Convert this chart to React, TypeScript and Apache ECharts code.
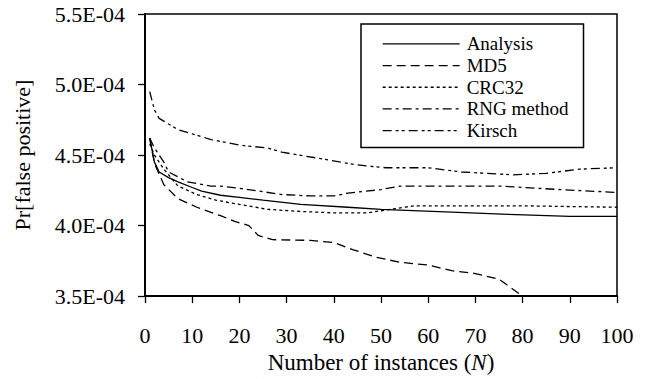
import React, { useEffect, useRef } from "react";
import * as echarts from "echarts";

// values in units of 1E-04
const seriesNames = ["Analysis", "MD5", "CRC32", "RNG method", "Kirsch"];

const analysisN = [1, 2, 3, 5, 7, 10, 12, 16, 20, 25, 33, 43, 50, 65, 77, 90, 100];
const analysisV = [4.62, 4.45, 4.38, 4.34, 4.31, 4.27, 4.245, 4.215, 4.2, 4.18, 4.15, 4.13, 4.115, 4.095, 4.08, 4.065, 4.065];

const md5N = [1, 2, 4, 7, 11, 16, 19, 22, 24, 27, 35, 40, 44, 49, 54, 60, 65, 70, 75, 80];
const md5V = [4.62, 4.44, 4.29, 4.19, 4.13, 4.07, 4.03, 4.0, 3.93, 3.9, 3.895, 3.88, 3.83, 3.775, 3.74, 3.72, 3.68, 3.66, 3.62, 3.5];

const crcN = [1, 2, 4, 7, 11, 15, 20, 26, 33, 40, 47, 51, 57, 70, 80, 90, 100];
const crcV = [4.58, 4.5, 4.4, 4.28, 4.22, 4.18, 4.15, 4.115, 4.1, 4.09, 4.09, 4.11, 4.14, 4.14, 4.14, 4.135, 4.13];

const rngN = [1, 2, 4, 5, 9, 14, 16, 21, 29, 35, 40, 43, 50, 54, 60, 75, 88, 100];
const rngV = [4.62, 4.55, 4.45, 4.38, 4.31, 4.28, 4.28, 4.26, 4.22, 4.21, 4.21, 4.23, 4.255, 4.28, 4.28, 4.28, 4.255, 4.235];

const kirschN = [1, 2, 3, 5, 7, 10, 14, 20, 26, 29, 38, 45, 51, 60, 67, 78, 85, 92, 100];
const kirschV = [4.95, 4.82, 4.76, 4.72, 4.68, 4.65, 4.61, 4.57, 4.55, 4.52, 4.47, 4.43, 4.41, 4.41, 4.38, 4.36, 4.37, 4.4, 4.41];

const yTickValues = [3.5, 4.0, 4.5, 5.0, 5.5];
const yTickLabels = ["3.5E-04", "4.0E-04", "4.5E-04", "5.0E-04", "5.5E-04"];

const FONT = "Liberation Serif";

const dashStyles: any[] = ["solid", [9, 5], [3, 3], [9, 4, 3, 4], [9, 4, 3, 3, 3, 4]];

function pairs(xs: number[], ys: number[]) {
  return xs.map((x, i) => [x, ys[i]]);
}

export default function App() {
  const ref = useRef<HTMLDivElement>(null);
  useEffect(() => {
    if (!ref.current) return;
    const chart = echarts.init(ref.current, undefined, { renderer: "svg" });
    const allData = [
      pairs(analysisN, analysisV),
      pairs(md5N, md5V),
      pairs(crcN, crcV),
      pairs(rngN, rngV),
      pairs(kirschN, kirschV),
    ];
    chart.setOption({
      animation: false,
      backgroundColor: "#fff",
      grid: {
        left: 145,
        right: 30,
        top: 14,
        bottom: 82,
        show: true,
        borderColor: "#000",
        borderWidth: 1.5,
        backgroundColor: "transparent",
      },
      legend: {
        orient: "vertical",
        left: 361,
        top: 24,
        padding: [9, 15, 6, 21],
        itemGap: 0,
        itemWidth: 77,
        itemHeight: 14,
        borderColor: "#000",
        borderWidth: 1.5,
        backgroundColor: "#fff",
        data: seriesNames,
        itemStyle: { color: "rgba(0,0,0,0)", borderColor: "rgba(0,0,0,0)", borderWidth: 0, opacity: 0 },
        lineStyle: { color: "#000", width: 1.3 },
        textStyle: {
          fontFamily: FONT,
          fontSize: 19,
          color: "#000",
          lineHeight: 21.7,
          padding: [0, 0, 0, 2],
        },
      },
      xAxis: {
        type: "value",
        min: 0,
        max: 100,
        interval: 10,
        name: "Number of instances ({i|N})",
        nameLocation: "middle",
        nameGap: 52,
        nameTextStyle: {
          fontFamily: FONT,
          fontSize: 23,
          color: "#000",
          rich: { i: { fontFamily: FONT, fontSize: 23, fontStyle: "italic", color: "#000" } },
        },
        axisLine: { show: true, lineStyle: { color: "#000", width: 2 } },
        axisTick: { show: true, inside: false, length: 7, lineStyle: { color: "#000", width: 1.3 } },
        axisLabel: { fontFamily: FONT, fontSize: 22, color: "#000", margin: 28 },
        splitLine: { show: false },
      },
      yAxis: {
        type: "value",
        min: 3.5,
        max: 5.5,
        interval: 0.5,
        name: "Pr[false positive]",
        nameLocation: "middle",
        nameGap: 112,
        nameTextStyle: { fontFamily: FONT, fontSize: 22, color: "#000" },
        axisLine: { show: true, lineStyle: { color: "#000", width: 2 } },
        axisTick: { show: true, inside: false, length: 7, lineStyle: { color: "#000", width: 1.3 } },
        axisLabel: {
          fontFamily: FONT,
          fontSize: 22,
          color: "#000",
          margin: 20,
          formatter: (v: number) => {
            const idx = yTickValues.findIndex((t) => Math.abs(t - v) < 1e-6);
            return idx >= 0 ? yTickLabels[idx] : "";
          },
        },
        splitLine: { show: false },
      },
      series: seriesNames.map((name, i) => ({
        name,
        type: "line",
        data: allData[i],
        showSymbol: false,
        symbol: "none",
        clip: true,
        lineStyle: { color: "#000", width: 1.3, type: dashStyles[i] },
        itemStyle: { color: "#000" },
        z: 2,
      })),
    });
    return () => chart.dispose();
  }, []);
  return <div ref={ref} style={{ width: 647, height: 379, position: "absolute", left: 0, top: 0 }} />;
}
